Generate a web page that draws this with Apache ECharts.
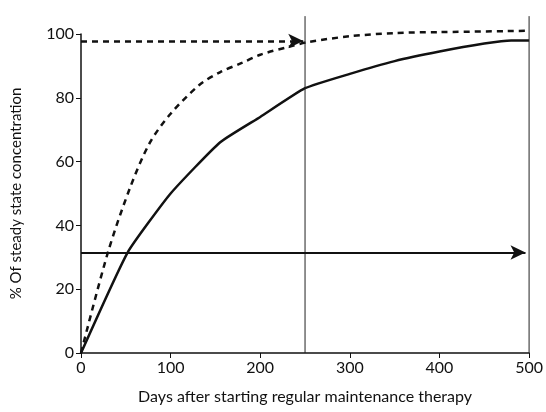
<!DOCTYPE html>
<html>
<head>
<meta charset="utf-8">
<script src="https://cdn.jsdelivr.net/npm/echarts@6/dist/echarts.min.js"></script>
<style>
    html, body { margin: 0; padding: 0; background: #fff; }
    #chart { width: 546px; height: 412px; }
</style>
</head>
<body>
<div id="chart"></div>
<script>
// 数据
const xTicks = [0, 100, 200, 300, 400, 500]
const yTicks = [0, 20, 40, 60, 80, 100]
// 实线
const solidDays = [0, 52, 100, 155, 200, 250, 300, 350, 400, 450, 480, 500]
const solidPct = [0, 31.5, 50, 66, 74, 83, 87.5, 91.5, 94.5, 97, 98, 98]
// 虚线
const dashDays = [0, 30, 55, 77, 100, 132, 155, 180, 200, 232, 254, 300, 350, 400, 500]
const dashPct = [0, 31.5, 52, 66, 75, 84, 88, 91, 93.5, 96, 97.5, 99.3, 100.3, 100.6, 101]
// 箭头与参考线
const solidArrow = { y: 31.5, from: 0, to: 496 }
const dashArrow = { y: 97.8, from: 0, to: 248 }
const refDays = [250, 500]
const refTop = 105.6

const FONT = 'Lato'
const INK = '#111'

const toPairs = (xs, ys) => xs.map((x, i) => [x, ys[i]])

/**
 * @description 带箭头的水平线
 */
const buildArrow = (a, dashed) => ({
    silent: true,
    symbol: ['none', 'arrow'],
    symbolSize: [11, 15],
    lineStyle: { color: INK, width: dashed ? 2.5 : 2, type: dashed ? [6, 5] : 'solid' },
    label: { show: false },
    data: [[{ coord: [a.from, a.y] }, { coord: [a.to, a.y] }]],
})

// 竖直参考线，画在隐藏的第二个 y 轴上，clip 关闭以便超出 100
const refSeries = refDays.map(d => ({
    type: 'line', yAxisIndex: 1, symbol: 'none', silent: true, clip: false,
    data: [[d, 0], [d, refTop]],
    lineStyle: { color: '#222', width: 1 },
}))

const chart = echarts.init(document.getElementById('chart'))
chart.setOption({
    animation: false,
    textStyle: { fontFamily: FONT, color: INK },
    grid: { left: 81, right: 15, top: 34, bottom: 59 },
    xAxis: {
        type: 'value', min: xTicks[0], max: xTicks[xTicks.length - 1], interval: 100,
        name: 'Days after starting regular maintenance therapy',
        nameLocation: 'middle', nameGap: 36,
        nameTextStyle: { fontFamily: FONT, fontSize: 16, color: INK },
        axisLine: { lineStyle: { color: INK, width: 1.5 } },
        axisTick: { length: 5, lineStyle: { color: INK } },
        axisLabel: { fontFamily: FONT, fontSize: 16, color: INK, margin: 7 },
        splitLine: { show: false },
    },
    yAxis: [
        {
            type: 'value', min: yTicks[0], max: yTicks[yTicks.length - 1], interval: 20,
            name: '% Of steady state concentration',
            nameLocation: 'middle', nameGap: 57,
            nameTextStyle: { fontFamily: FONT, fontSize: 15, color: INK },
            axisLine: { show: true, lineStyle: { color: INK, width: 1.5 } },
            axisTick: { show: true, length: 5, lineStyle: { color: INK } },
            axisLabel: { fontFamily: FONT, fontSize: 16, color: INK, margin: 7 },
            splitLine: { show: false },
        },
        {
            type: 'value', show: false, min: yTicks[0], max: yTicks[yTicks.length - 1],
            splitLine: { show: false },
        },
    ],
    series: [
        {
            type: 'line', clip: false, symbol: 'none', smooth: 0.3,
            data: toPairs(dashDays, dashPct),
            lineStyle: { color: INK, width: 2.5, type: [6, 5] },
            markLine: buildArrow(dashArrow, true),
        },
        {
            type: 'line', clip: false, symbol: 'none', smooth: 0.15,
            data: toPairs(solidDays, solidPct),
            lineStyle: { color: INK, width: 2.5 },
            markLine: buildArrow(solidArrow, false),
        },
        ...refSeries,
    ],
})
</script>
</body>
</html>
